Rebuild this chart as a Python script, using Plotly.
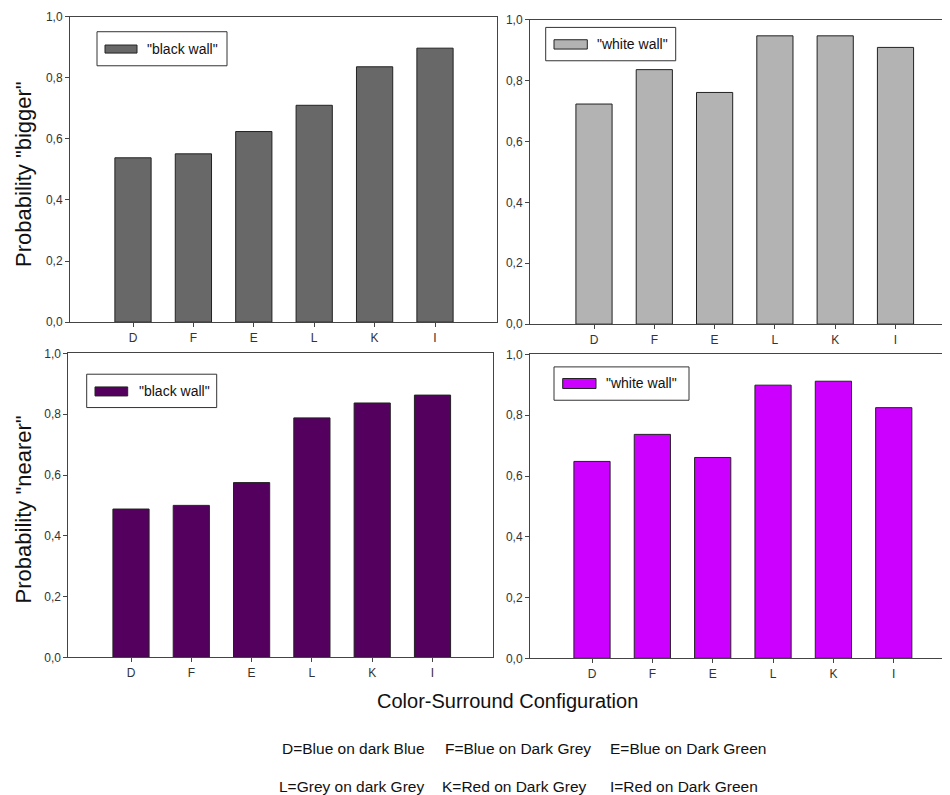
import plotly.graph_objects as go

# ---------------- data ----------------
categories = ["D", "F", "E", "L", "K", "I"]
bigger_black_wall = [0.538, 0.551, 0.624, 0.710, 0.836, 0.897]
bigger_white_wall = [0.723, 0.836, 0.761, 0.947, 0.947, 0.909]
nearer_black_wall = [0.488, 0.500, 0.575, 0.788, 0.837, 0.863]
nearer_white_wall = [0.648, 0.737, 0.661, 0.899, 0.912, 0.825]

y_tick_values = [0.0, 0.2, 0.4, 0.6, 0.8, 1.0]
y_tick_labels = ["0,0", "0,2", "0,4", "0,6", "0,8", "1,0"]

legend_labels = ['"black wall"', '"white wall"', '"black wall"', '"white wall"']
y_titles = ['Probability "bigger"', 'Probability "nearer"']
x_title = "Color-Surround Configuration"
key_line1 = ["D=Blue on dark Blue", "F=Blue on Dark Grey", "E=Blue on Dark Green"]
key_line2 = ["L=Grey on dark Grey", "K=Red on Dark Grey", "I=Red on Dark Green"]

# ---------------- styling ----------------
W, H = 950, 795
FONT = "Arial, Liberation Sans, sans-serif"
colors = ["#686868", "#b3b3b3", "#53005f", "#cc00ff"]
AX = "#444444"

# placement helpers (target pixel -> paper fraction, with page offset compensation)
SX, OX, SY, OY = 1.0, 8.0, 0.981, 15.3


def px(x):
    return min(max((x - OX) / SX / W, 0.0), 1.0)


def py(y):
    return min(max(1 - (y - OY) / SY / H, 0.0), 1.0)


# panel boxes in pixels: left, right, top, bottom, first-bar centre, bar spacing
panels = [
    dict(box=(70, 497, 17, 322), c0=133, d=60.4, data=bigger_black_wall, mirror=True),
    dict(box=(530, 958, 20, 324), c0=594, d=60.3, data=bigger_white_wall, mirror=False),
    dict(box=(68.3, 493.3, 353.3, 656.7), c0=131, d=60.3, data=nearer_black_wall, mirror=True),
    dict(box=(530, 958, 354.3, 657.7), c0=592, d=60.35, data=nearer_white_wall, mirror=False),
]

fig = go.Figure()
layout_axes = {}
for i, p in enumerate(panels):
    n = "" if i == 0 else str(i + 1)
    l, r, t, b = p["box"]
    xr = [(l - p["c0"]) / p["d"], (r - p["c0"]) / p["d"]]
    fig.add_trace(go.Bar(
        x=categories, y=p["data"], xaxis="x" + n, yaxis="y" + n,
        marker=dict(color=colors[i], line=dict(color="#222222", width=1)),
        width=0.6, showlegend=False, name=legend_labels[i],
    ))
    layout_axes["xaxis" + n] = dict(
        domain=[px(l), px(r)], anchor="y" + n, type="category",
        range=xr, showline=True, linecolor=AX, linewidth=1, mirror=True,
        ticks="outside", ticklen=4, tickcolor=AX, showgrid=False, zeroline=False,
        tickfont=dict(family=FONT, size=12, color="#333333"),
        fixedrange=True,
    )
    layout_axes["yaxis" + n] = dict(
        domain=[py(b), py(t)], anchor="x" + n, range=[0, 1],
        tickvals=y_tick_values, ticktext=y_tick_labels,
        showline=True, linecolor=AX, linewidth=1, mirror=p["mirror"],
        ticks="outside", ticklen=4, tickcolor=AX, showgrid=False, zeroline=False,
        tickfont=dict(family=FONT, size=12, color="#333333"),
        fixedrange=True,
    )

fig.update_layout(**layout_axes)

# ---------------- legends (drawn as boxes) ----------------
legend_boxes = [
    dict(box=(97, 227, 32, 66), sw=(105, 137, 45.3, 53.3), tx=145, ty=49),
    dict(box=(545.7, 675.7, 27.7, 61), sw=(554, 587.3, 40, 49.3), tx=595, ty=44),
    dict(box=(86.7, 216.7, 374, 407.3), sw=(95, 127.7, 386.7, 395.7), tx=137.3, ty=391),
    dict(box=(554, 689, 366.7, 400), sw=(562.7, 596, 378.3, 388.3), tx=604, ty=383),
]
shapes = []
annotations = []
for i, lb in enumerate(legend_boxes):
    l, r, t, b = lb["box"]
    shapes.append(dict(type="rect", xref="paper", yref="paper",
                       x0=px(l), x1=px(r), y0=py(b), y1=py(t),
                       line=dict(color="#333333", width=1), fillcolor="white", layer="above"))
    l, r, t, b = lb["sw"]
    shapes.append(dict(type="rect", xref="paper", yref="paper",
                       x0=px(l), x1=px(r), y0=py(b), y1=py(t),
                       line=dict(color="#222222", width=1), fillcolor=colors[i], layer="above"))
    annotations.append(dict(xref="paper", yref="paper", x=px(lb["tx"]), y=py(lb["ty"]),
                            text=legend_labels[i], showarrow=False, xanchor="left",
                            yanchor="middle", font=dict(family=FONT, size=14, color="#111111")))

# y titles
annotations.append(dict(xref="paper", yref="paper", x=px(24), y=py(174), text=y_titles[0],
                        textangle=-90, showarrow=False, xanchor="center", yanchor="middle",
                        font=dict(family=FONT, size=22, color="#111111")))
annotations.append(dict(xref="paper", yref="paper", x=px(23), y=py(509), text=y_titles[1],
                        textangle=-90, showarrow=False, xanchor="center", yanchor="middle",
                        font=dict(family=FONT, size=22, color="#111111")))
# x title
annotations.append(dict(xref="paper", yref="paper", x=px(507), y=py(700), text=x_title,
                        showarrow=False, xanchor="center", yanchor="middle",
                        font=dict(family=FONT, size=20, color="#111111")))
# key lines
for txt, x0 in zip(key_line1, [280, 443, 608]):
    annotations.append(dict(xref="paper", yref="paper", x=px(x0), y=py(748), text=txt,
                            showarrow=False, xanchor="left", yanchor="middle",
                            font=dict(family=FONT, size=15.5, color="#111111")))
for txt, x0 in zip(key_line2, [277, 440, 608]):
    annotations.append(dict(xref="paper", yref="paper", x=px(x0), y=py(786), text=txt,
                            showarrow=False, xanchor="left", yanchor="middle",
                            font=dict(family=FONT, size=15.5, color="#111111")))

fig.update_layout(
    width=W, height=H,
    margin=dict(l=0, r=0, t=0, b=0),
    paper_bgcolor="white", plot_bgcolor="white",
    shapes=shapes, annotations=annotations,
    showlegend=False,
    font=dict(family=FONT),
)

fig.write_html("out.html")
